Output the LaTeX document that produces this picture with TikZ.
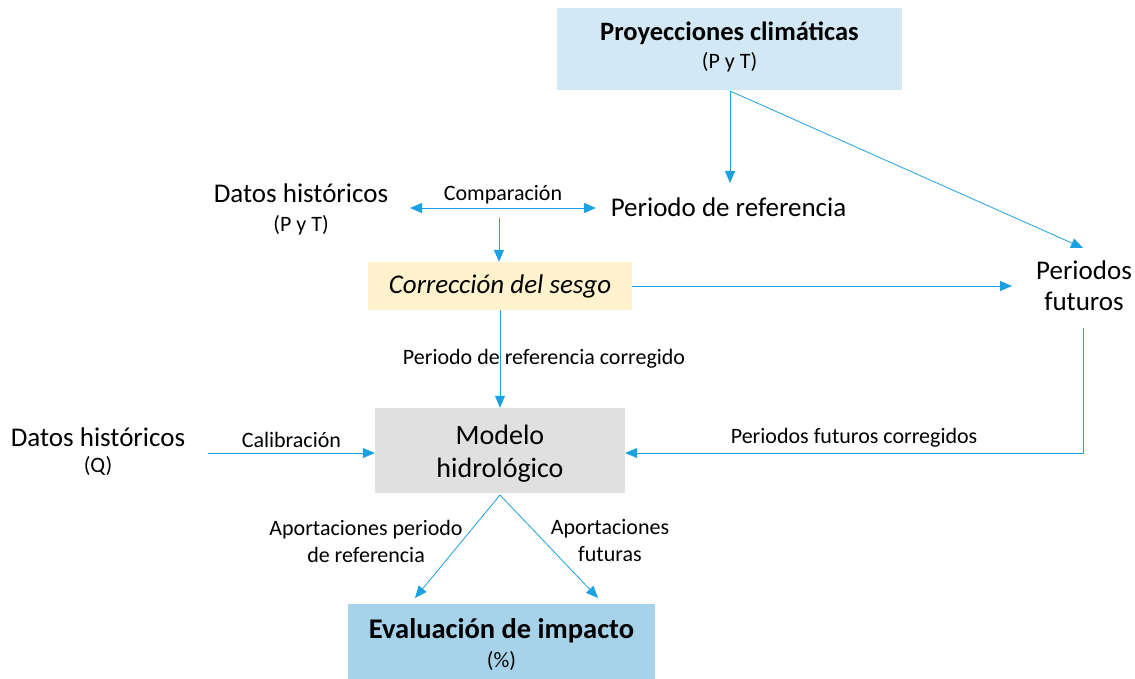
\documentclass[tikz,border=0pt]{standalone}
\usepackage{fontspec}
\setmainfont{Carlito}
\usetikzlibrary{arrows.meta}
\definecolor{arrblue}{HTML}{1BA1E2}
\definecolor{projfill}{HTML}{D2E9F5}
\definecolor{evalfill}{HTML}{A6D2EA}
\definecolor{corrfill}{HTML}{FFF2CC}
\definecolor{modfill}{HTML}{E0E0E0}
\begin{document}
\begin{tikzpicture}[x=1pt,y=-1pt,
  arr/.style={draw=arrblue, line width=0.8pt, -{Triangle[length=12pt,width=10pt]}},
  darr/.style={draw=arrblue, line width=0.8pt, {Triangle[length=12pt,width=10pt]}-{Triangle[length=12pt,width=10pt]}},
  box/.style={inner sep=0pt, align=center, anchor=center},
  big/.style={font=\fontsize{27}{31}\selectfont, align=center, inner sep=0pt},
  lab/.style={font=\fontsize{22}{27}\selectfont, align=center, inner sep=0pt},
  sub/.style={font=\fontsize{22}{26}\selectfont}
]
\useasboundingbox (0,0) rectangle (1135,679);
% boxes
\node[box, fill=projfill, minimum width=345pt, minimum height=82pt] (proj) at (729.5,49) {};
\node[font=\fontsize{26.5}{30}\selectfont\bfseries, inner sep=0pt] (projt) at (729.5,33) {Proyecciones climáticas};
\node[sub, inner sep=0pt] (projs) at (729.5,62) {(P y T)};

\node[box, fill=corrfill, minimum width=264pt, minimum height=48pt, font=\fontsize{27}{31}\selectfont\itshape] (corr) at (500,286) {Corrección del sesgo};

\node[box, fill=modfill, minimum width=250pt, minimum height=85pt] (mod) at (500,450.5) {};
\node[box, font=\fontsize{28}{33}\selectfont] (modt) at (500,454) {Modelo\\hidrológico};

\node[box, fill=evalfill, minimum width=307pt, minimum height=75pt] (eval) at (501.5,641.5) {};
\node[font=\fontsize{28.5}{32}\selectfont\bfseries, inner sep=0pt] (evalt) at (501.5,631) {Evaluación de impacto};
\node[sub, inner sep=0pt] (evals) at (501.5,661) {(\%)};

% text nodes
\node[big] (perref) at (728.5,207) {Periodo de referencia};
\node[big] (dpt) at (301,193) {Datos históricos};
\node[sub, inner sep=0pt] (dpts) at (301,225) {(P y T)};
\node[big] (fut) at (1084,286) {Periodos\\futuros};
\node[big] (dq) at (98,437) {Datos históricos};
\node[sub, inner sep=0pt] (dqs) at (98,466) {(Q)};

% coordinates
\coordinate (pj) at (730,91);
\coordinate (cmpL) at (410,208);
\coordinate (cmpR) at (596,208);
\coordinate (cmpM) at (499,218);
\coordinate (futN) at (1083,248);
\coordinate (futS) at (1083,328);
\coordinate (futC) at (1083,453);
\coordinate (calS) at (208,453);
\coordinate (modB) at (500,495);
\coordinate (evL) at (415,598);
\coordinate (evR) at (598,598);
\coordinate (corrE) at (1012,286);

% connectors
\draw[arr] (pj) -- (pj |- 0,183);
\draw[arr] (pj) -- (futN);
\draw[darr] (cmpL) -- node[lab, yshift=13pt] (cmpl) {Comparación} (cmpR);
\draw[arr] (cmpM) -- (cmpM |- corr.north);
\draw[arr] (corr.east) -- (corrE);
\draw[arr] (corr.south) -- node[lab, pos=0.5, xshift=44pt] (prc) {Periodo de referencia corregido} (mod.north);
\draw[arr] (futS) -- (futC) -- node[lab, yshift=15pt] (pfc) {Periodos futuros corregidos} (futC -| mod.east);
\draw[arr] (calS) -- node[lab, yshift=13pt] (cal) {Calibración} (calS -| mod.west);
\draw[arr] (modB) -- (evL);
\draw[arr] (modB) -- (evR);
\node[lab] (apr) at (366,541) {Aportaciones periodo\\de referencia};
\node[lab] (apf) at (610,541) {Aportaciones\\futuras};
\end{tikzpicture}
\end{document}
